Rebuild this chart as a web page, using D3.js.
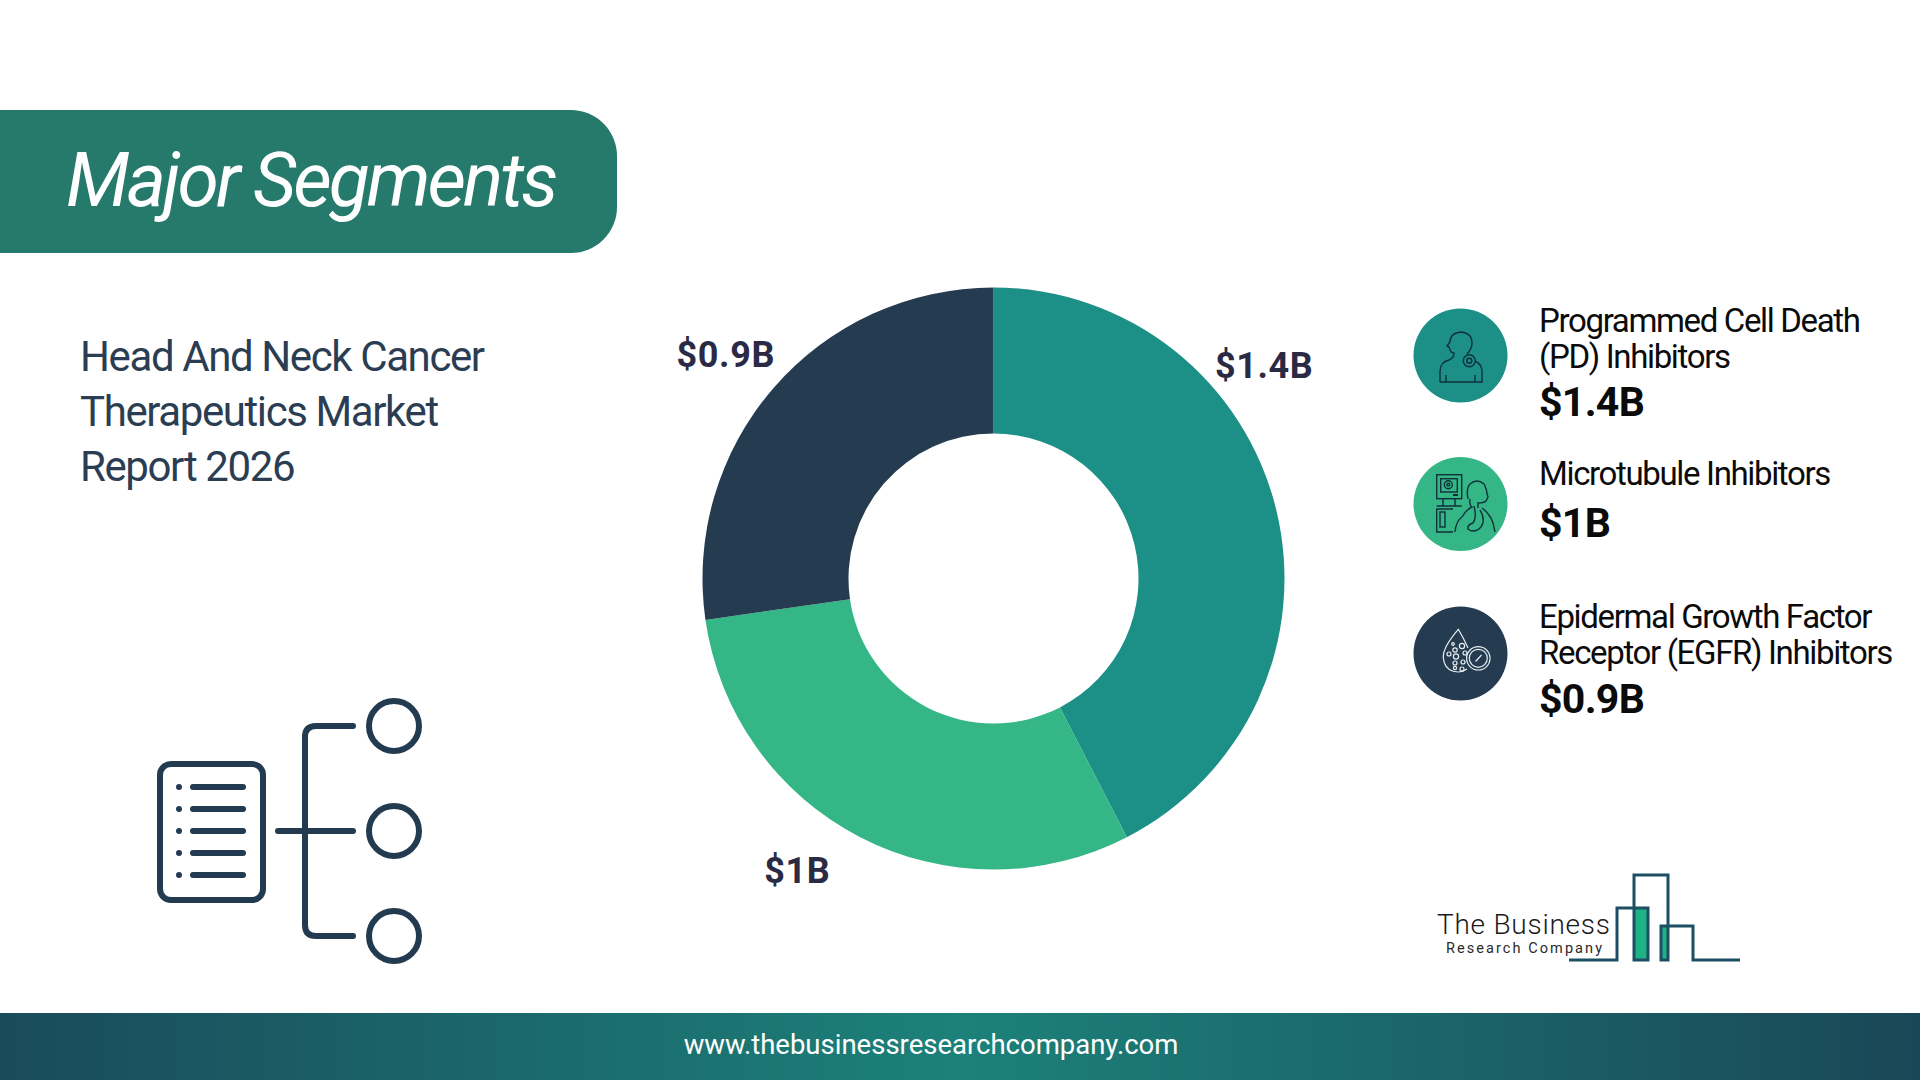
<!DOCTYPE html>
<html>
<head>
<meta charset="utf-8">
<script src="https://cdn.jsdelivr.net/npm/d3@7"></script>
<style>
html, body { margin: 0; padding: 0; background: #fff; }
svg { display: block; }
text { font-family: Roboto, sans-serif; }
</style>
</head>
<body>
<div id="chart"></div>
<script>
// chart values
var segments = ["Programmed Cell Death (PD) Inhibitors", "Microtubule Inhibitors", "Epidermal Growth Factor Receptor (EGFR) Inhibitors"];
var values = [1.4, 1, 0.9];
var valueLabels = ["$1.4B", "$1B", "$0.9B"];
var colors = ["#1c8f87", "#34b687", "#243b50"];
var legendLines = [
  ["Programmed Cell Death", "(PD) Inhibitors"],
  ["Microtubule Inhibitors"],
  ["Epidermal Growth Factor", "Receptor (EGFR) Inhibitors"]
];
var titleLines = ["Head And Neck Cancer", "Therapeutics Market", "Report 2026"];

var width = 1920, height = 1080;
var svg = d3.select("#chart").append("svg").attr("width", width).attr("height", height);
var defs = svg.append("defs");

var foot = defs.append("linearGradient").attr("id", "foot");
foot.append("stop").attr("offset", "0%").attr("stop-color", "#1a4b5b");
foot.append("stop").attr("offset", "50%").attr("stop-color", "#1c8179");
foot.append("stop").attr("offset", "100%").attr("stop-color", "#1a4757");

// banner
svg.append("path")
  .attr("d", "M0,110H571A46,46 0 0 1 617,156V207A46,46 0 0 1 571,253H0Z")
  .attr("fill", "#257a6b");
svg.append("text").attr("x", 66).attr("y", 206)
  .attr("font-size", 75).attr("font-weight", 400).attr("font-style", "italic")
  .attr("letter-spacing", -3).attr("fill", "#fff").text("Major Segments");

// report title
svg.append("g").selectAll("text").data(titleLines).join("text")
  .attr("x", 80).attr("y", (d, i) => 370.5 + i * 55)
  .attr("font-size", 42).attr("letter-spacing", -1.4).attr("fill", "#2b3d52").text(d => d);

// donut
var cx = 993.5, cy = 578.5, outerR = 291, innerR = 145;
var pie = d3.pie().sort(null)(values);
var arc = d3.arc().innerRadius(innerR).outerRadius(outerR);
var donut = svg.append("g").attr("transform", "translate(" + cx + "," + cy + ")");
donut.selectAll("path").data(pie).join("path")
  .attr("d", arc).attr("fill", (d, i) => colors[i]);

// labels sit outside the ring, turned a bit away from the slice middle
var labelR = [344.3, 352, 349];
var labelTurn = [-24.55, 6.6, -1];
function labelAngle(d, i) {
  return (d.startAngle + d.endAngle) / 2 + labelTurn[i] * Math.PI / 180;
}
donut.selectAll("text").data(pie).join("text")
  .attr("x", (d, i) => labelR[i] * Math.sin(labelAngle(d, i)))
  .attr("y", (d, i) => -labelR[i] * Math.cos(labelAngle(d, i)) + 2.5)
  .attr("text-anchor", "middle").attr("dominant-baseline", "middle")
  .attr("font-size", 36).attr("font-weight", 700).attr("letter-spacing", 0.6).attr("fill", "#2b2a45")
  .text((d, i) => valueLabels[i]);

// legend
var legendY = [355.5, 504, 653.5];
var legendTextY = [332, 485, 628];
var legendValueY = [416, 537, 713];
var legend = svg.append("g");
segments.forEach(function(s, i) {
  legend.append("circle").attr("cx", 1460.5).attr("cy", legendY[i]).attr("r", 47).attr("fill", colors[i]);
  legendLines[i].forEach(function(l, j) {
    legend.append("text").attr("x", 1539).attr("y", legendTextY[i] + j * 35.5)
      .attr("font-size", 33).attr("letter-spacing", -1.35).attr("fill", "#0b0b0b").text(l);
  });
  legend.append("text").attr("x", 1539).attr("y", legendValueY[i])
    .attr("font-size", 41).attr("font-weight", 700).attr("letter-spacing", -0.7).attr("fill", "#0b0b0b").text(valueLabels[i]);
});

// segment icon, list with branches
var tree = svg.append("g").attr("fill", "none").attr("stroke", "#233b50").attr("stroke-width", 6).attr("stroke-linecap", "round");
tree.append("rect").attr("x", 160).attr("y", 764).attr("width", 103).attr("height", 136).attr("rx", 11);
[787, 809, 831, 853, 875].forEach(function(y) {
  tree.append("line").attr("x1", 193).attr("x2", 243).attr("y1", y).attr("y2", y);
  tree.append("circle").attr("cx", 179).attr("cy", y).attr("r", 3).attr("fill", "#233b50").attr("stroke", "none");
});
tree.append("path").attr("d", "M353,726H316Q305,726 305,737V925Q305,936 316,936H353");
tree.append("path").attr("d", "M278,831H353");
[726, 831, 936].forEach(function(y) {
  tree.append("circle").attr("cx", 394).attr("cy", y).attr("r", 25);
});

// legend icons, thin outlines
var ic1 = svg.append("g").attr("fill", "none").attr("stroke", "#10303a").attr("stroke-width", 1.4);
ic1.append("path").attr("d", "M1440,382V372Q1440,362 1449,360Q1454,358 1454,353L1451,352L1449,347L1447,346L1450,342Q1450,333 1461,332Q1472,333 1472,343Q1472,349 1467,354");
ic1.append("path").attr("d", "M1475,361Q1482,364 1482,372V382H1440");
ic1.append("path").attr("d", "M1446,382V375M1475,382V375");
ic1.append("circle").attr("cx", 1469.3).attr("cy", 360.7).attr("r", 6);
ic1.append("circle").attr("cx", 1469.3).attr("cy", 360.7).attr("r", 2.5);

var ic2 = svg.append("g").attr("fill", "none").attr("stroke", "#10303a").attr("stroke-width", 1.4);
ic2.append("rect").attr("x", 1436.7).attr("y", 474.7).attr("width", 25).attr("height", 24);
ic2.append("rect").attr("x", 1440.7).attr("y", 478.7).attr("width", 16.6).attr("height", 13.3);
ic2.append("circle").attr("cx", 1448.3).attr("cy", 484.7).attr("r", 4);
ic2.append("circle").attr("cx", 1448.3).attr("cy", 484.7).attr("r", 1.4);
ic2.append("path").attr("d", "M1443,499V506M1455,499V506M1436.7,506H1461.7");
ic2.append("path").attr("d", "M1453,495H1458").attr("stroke-width", 2);
ic2.append("path").attr("d", "M1453,509H1436.7V532H1453");
ic2.append("rect").attr("x", 1440).attr("y", 512).attr("width", 5).attr("height", 15);
ic2.append("path").attr("d", "M1468,499Q1466,488 1470,484Q1477,478 1484,484Q1487,490 1487,494L1488,497L1486,501Q1484,503 1478,503V508");
ic2.append("path").attr("d", "M1470,499Q1469,505 1472,507Q1466,510 1462,517Q1456,521 1455,532");
ic2.append("path").attr("d", "M1482,508Q1490,514 1493,523L1495,532");
ic2.append("path").attr("d", "M1474,506Q1477,518 1473,523Q1467,525 1468,529Q1474,534 1481,527Q1486,520 1480,510");

var ic3 = svg.append("g").attr("fill", "none").attr("stroke", "#e8eef0").attr("stroke-width", 1.2);
ic3.append("path").attr("d", "M1468,648Q1463,637 1458.3,629.3Q1443,647 1443.3,657Q1444,671 1458,672Q1463,672 1467,669");
ic3.append("circle").attr("cx", 1478.3).attr("cy", 658.3).attr("r", 11.7);
ic3.append("circle").attr("cx", 1478.3).attr("cy", 658.3).attr("r", 9);
ic3.append("path").attr("d", "M1475.5,661.5L1481.5,655");
[[1455, 650, 2.2], [1462, 646, 2.6], [1449, 654, 2], [1456, 656.5, 2.6], [1465, 653, 2], [1455, 663, 2], [1463, 662, 2], [1455, 668, 1.6], [1462, 669, 2], [1453, 644, 1.3]].forEach(function(p) {
  ic3.append("circle").attr("cx", p[0]).attr("cy", p[1]).attr("r", p[2]);
});

// logo
var logo = svg.append("g");
logo.append("rect").attr("x", 1634).attr("y", 908).attr("width", 15).attr("height", 52).attr("fill", "#1fb285");
logo.append("rect").attr("x", 1661).attr("y", 926).attr("width", 8).attr("height", 34).attr("fill", "#1fb285");
logo.append("path")
  .attr("d", "M1569,960H1617V908H1648V960H1634V875H1668V960H1661V926H1693V960H1740")
  .attr("fill", "none").attr("stroke", "#1c4f63").attr("stroke-width", 3);
logo.append("text").attr("x", 1437).attr("y", 934).attr("font-size", 28).attr("font-family", "Lato").attr("font-weight", 300)
  .attr("textLength", 173).attr("fill", "#1a1a1a").text("The Business");
logo.append("text").attr("x", 1446).attr("y", 952.5).attr("font-size", 14.5).attr("font-family", "Lato")
  .attr("textLength", 156).attr("fill", "#2a2a2a").text("Research Company");

// footer
svg.append("rect").attr("x", 0).attr("y", 1013).attr("width", width).attr("height", 67).attr("fill", "url(#foot)");
svg.append("text").attr("x", 931).attr("y", 1054).attr("text-anchor", "middle")
  .attr("font-size", 27.5).attr("fill", "#fff").text("www.thebusinessresearchcompany.com");
</script>
</body>
</html>
